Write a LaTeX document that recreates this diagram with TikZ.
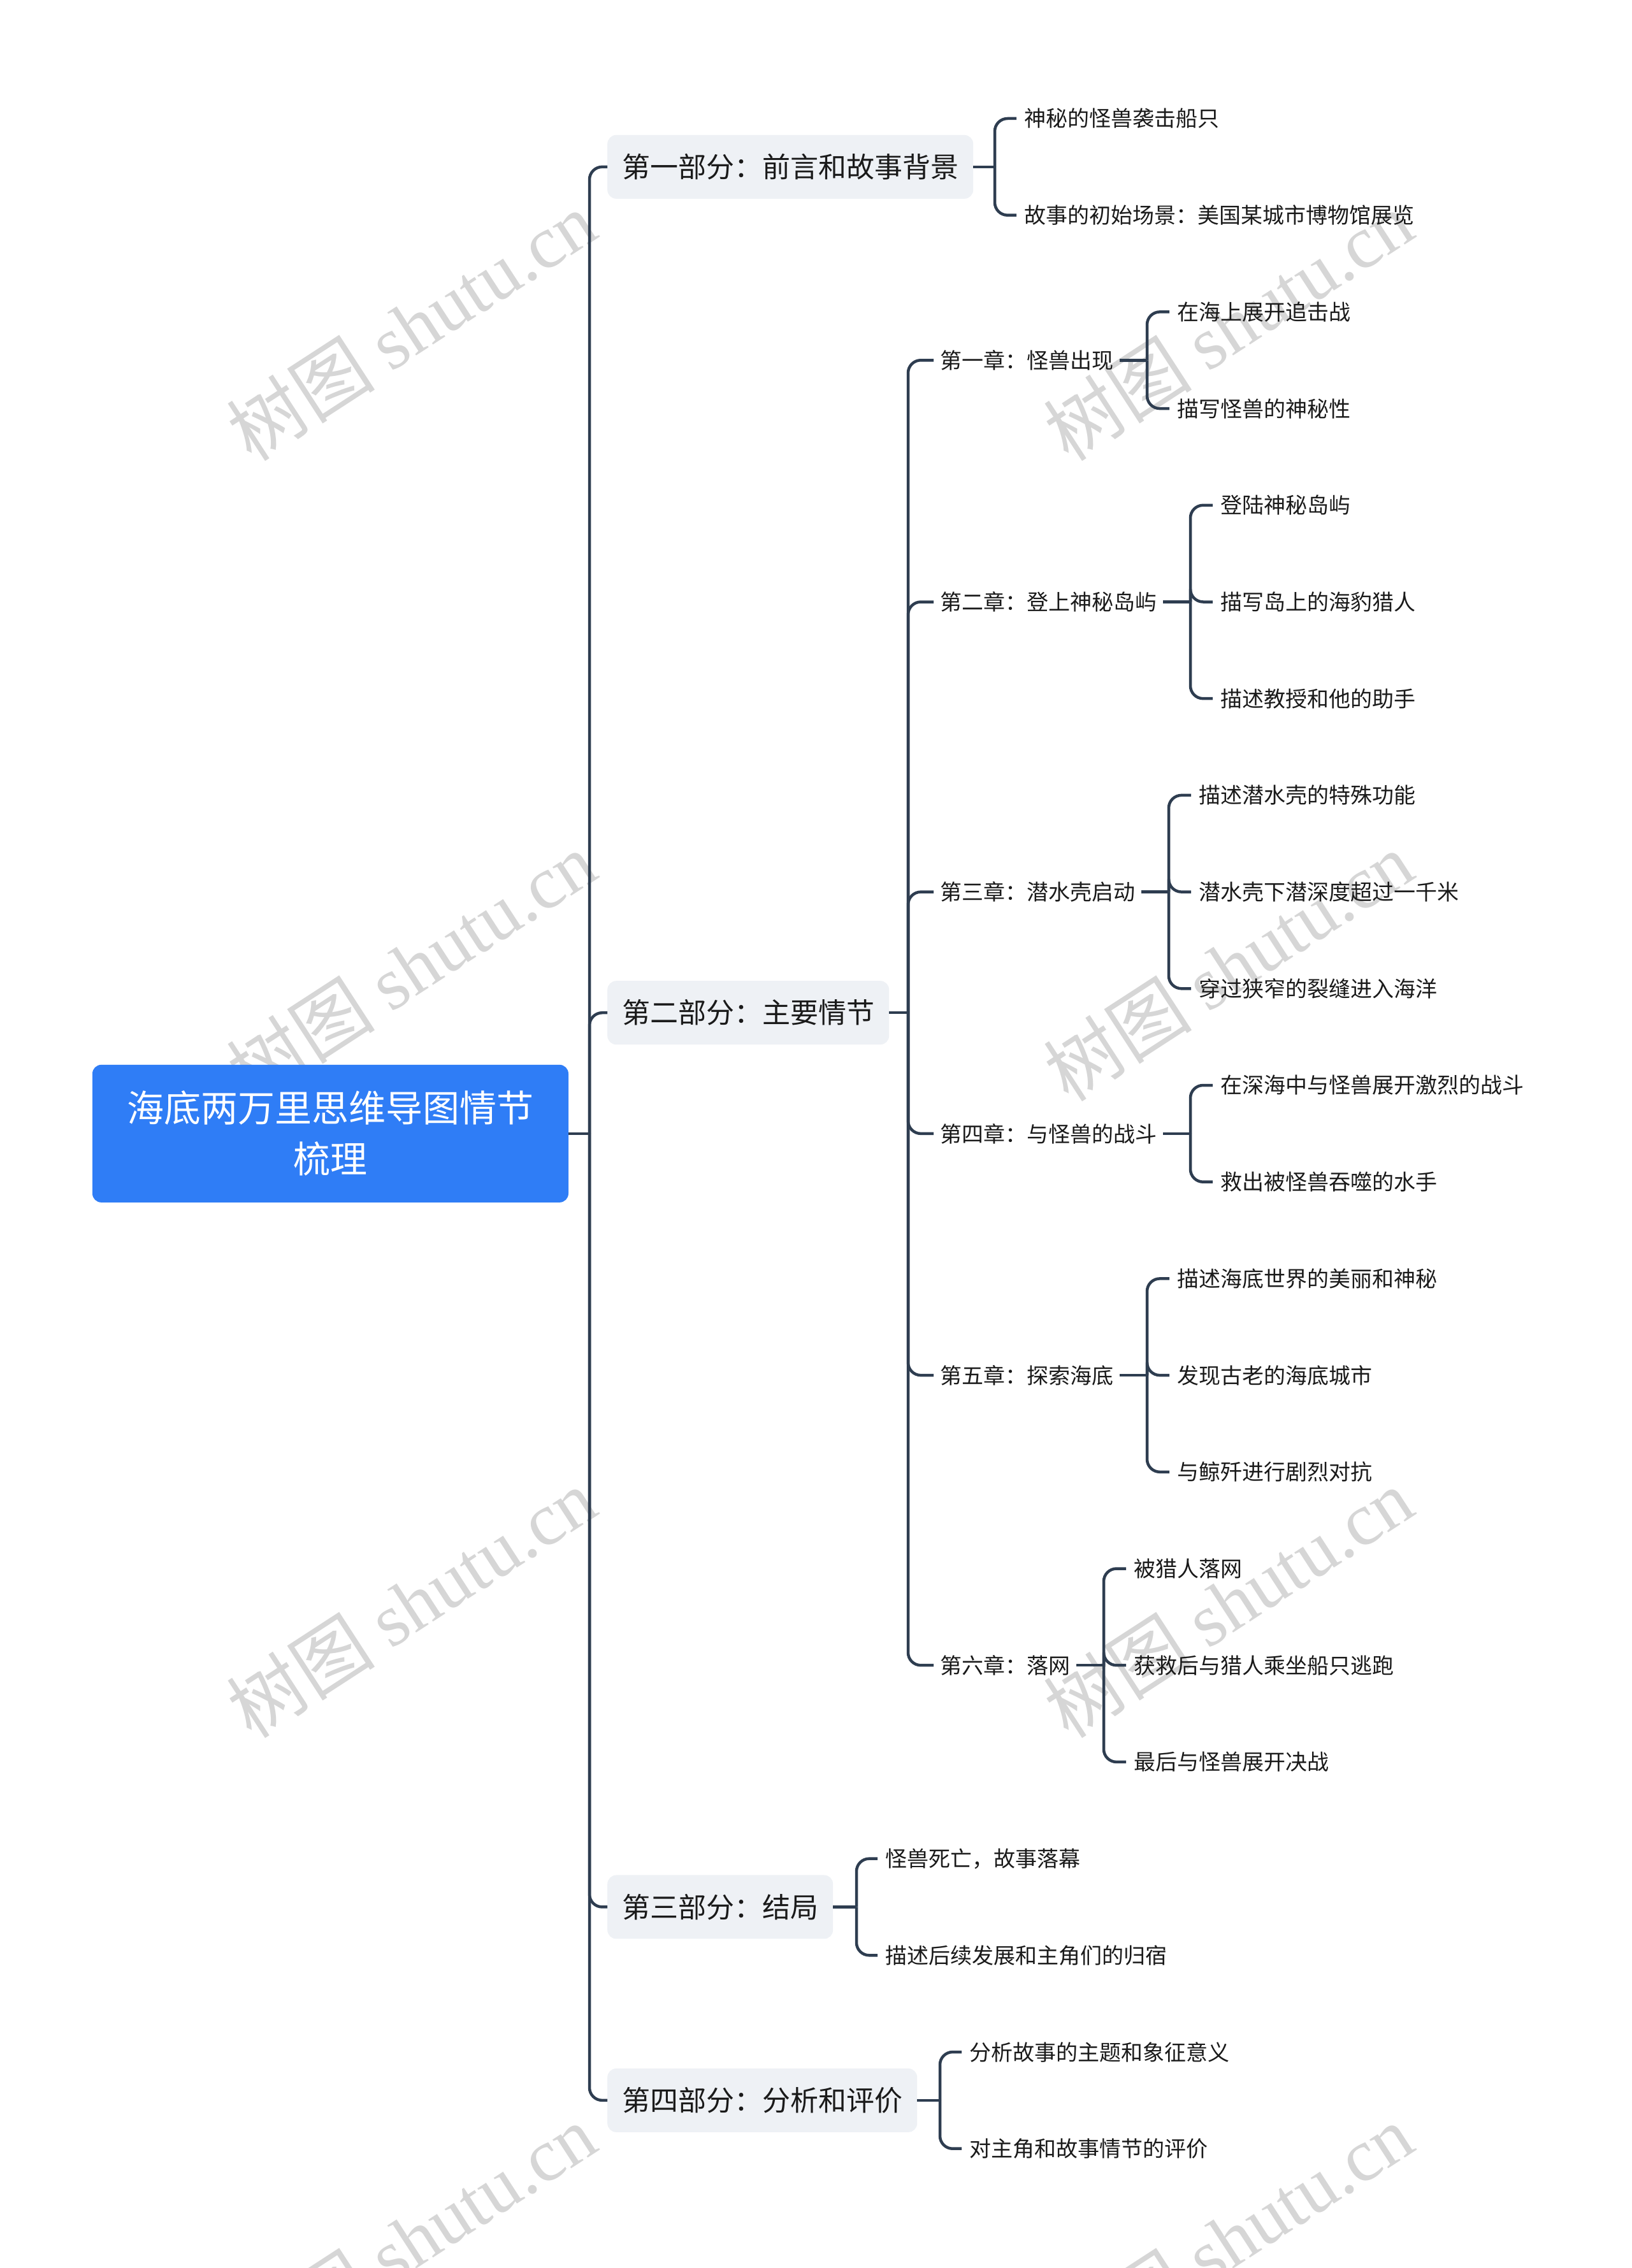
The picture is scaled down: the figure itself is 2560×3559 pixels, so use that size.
\documentclass[tikz,border=0pt]{standalone}
\usepackage{fontspec}
\setmainfont{Noto Sans CJK SC}
\newfontfamily\wmlatin{Liberation Serif}
\definecolor{linec}{HTML}{2E3D50}
\definecolor{rootc}{HTML}{2F7DF6}
\definecolor{boxc}{HTML}{EEF1F5}
\definecolor{wmc}{HTML}{D6D6D6}
\definecolor{txtc}{HTML}{1A1A1A}
\begin{document}
\begin{tikzpicture}[x=1pt,y=-1pt,
  conn/.style={draw=linec, line width=4.5pt, rounded corners=20pt},
  rootbox/.style={fill=rootc, rounded corners=14pt, text=white, font=\fontsize{58}{80}\selectfont, align=center, minimum width=747pt, minimum height=216pt, inner sep=0pt},
  partbox/.style={fill=boxc, rounded corners=14pt, text=txtc, font=\fontsize{44}{52}\selectfont, inner xsep=23pt, inner ysep=0pt, minimum height=100pt, anchor=west},
  chap/.style={text=txtc, font=\fontsize{34}{40}\selectfont, inner xsep=10pt, anchor=west},
  leaf/.style={text=txtc, font=\fontsize{34}{40}\selectfont, inner xsep=12pt, anchor=west},
  wm/.style={text=wmc, rotate=33, font=\fontsize{117}{125}\selectfont}]
\path[use as bounding box, fill=white] (0,0) rectangle (2560,3559);

% watermarks
\foreach \wx/\wy [count=\i] in {645/511,1927/511,645/1516,1927/1516,645/2515,1927/2515,645/3513,1927/3513}{
  \node[wm] (wm\i) at (\wx,\wy) {树图 {\wmlatin shutu.cn}};
}

% root
\node[rootbox] (root) at (518.5,1778.85) {海底两万里思维导图情节\\梳理};

% parts
\node[partbox] (p1) at (953,261.85) {第一部分：前言和故事背景};
\node[partbox] (p2) at (953,1589.2) {第二部分：主要情节};
\node[partbox] (p3) at (953,2992.45) {第三部分：结局};
\node[partbox] (p4) at (953,3295.85) {第四部分：分析和评价};

% chapters
\node[chap] (c1) at (1465,565.25) {第一章：怪兽出现};
\node[chap] (c2) at (1465,944.5) {第二章：登上神秘岛屿};
\node[chap] (c3) at (1465,1399.6) {第三章：潜水壳启动};
\node[chap] (c4) at (1465,1778.85) {第四章：与怪兽的战斗};
\node[chap] (c5) at (1465,2158.1) {第五章：探索海底};
\node[chap] (c6) at (1465,2613.2) {第六章：落网};

% leaves
\node[leaf] (l0) at (1595,186.0) {神秘的怪兽袭击船只};
\node[leaf] (l1) at (1595,337.7) {故事的初始场景：美国某城市博物馆展览};
\node[leaf] (l2) at (1835,489.4) {在海上展开追击战};
\node[leaf] (l3) at (1835,641.1) {描写怪兽的神秘性};
\node[leaf] (l4) at (1903,792.8) {登陆神秘岛屿};
\node[leaf] (l5) at (1903,944.5) {描写岛上的海豹猎人};
\node[leaf] (l6) at (1903,1096.2) {描述教授和他的助手};
\node[leaf] (l7) at (1869,1247.9) {描述潜水壳的特殊功能};
\node[leaf] (l8) at (1869,1399.6) {潜水壳下潜深度超过一千米};
\node[leaf] (l9) at (1869,1551.3) {穿过狭窄的裂缝进入海洋};
\node[leaf] (l10) at (1903,1703.0) {在深海中与怪兽展开激烈的战斗};
\node[leaf] (l11) at (1903,1854.7) {救出被怪兽吞噬的水手};
\node[leaf] (l12) at (1835,2006.4) {描述海底世界的美丽和神秘};
\node[leaf] (l13) at (1835,2158.1) {发现古老的海底城市};
\node[leaf] (l14) at (1835,2309.8) {与鲸歼进行剧烈对抗};
\node[leaf] (l15) at (1767,2461.5) {被猎人落网};
\node[leaf] (l16) at (1767,2613.2) {获救后与猎人乘坐船只逃跑};
\node[leaf] (l17) at (1767,2764.9) {最后与怪兽展开决战};
\node[leaf] (l18) at (1377,2916.6) {怪兽死亡，故事落幕};
\node[leaf] (l19) at (1377,3068.3) {描述后续发展和主角们的归宿};
\node[leaf] (l20) at (1509,3220.0) {分析故事的主题和象征意义};
\node[leaf] (l21) at (1509,3371.7) {对主角和故事情节的评价};

% junction coordinates
\coordinate (jr) at (925,1778.85);
\coordinate (jp1) at (1561,261.85);
\coordinate (jp2) at (1425,1589.2);
\coordinate (jp3) at (1344,2992.45);
\coordinate (jp4) at (1475,3295.85);
\coordinate (jc1) at (1800,565.25);
\coordinate (jc2) at (1868,944.5);
\coordinate (jc3) at (1834,1399.6);
\coordinate (jc4) at (1868,1778.85);
\coordinate (jc5) at (1800,2158.1);
\coordinate (jc6) at (1732,2613.2);

% root trunk
\draw[conn] (root.east) -- (jr);
\foreach \p in {p1,p2,p3,p4}{\draw[conn] (jr) |- (\p.west);}

% part brackets
\draw[conn] (p1.east) -- (jp1);
\foreach \l in {l0,l1}{\draw[conn] (jp1) |- (\l.west);}
\draw[conn] (p2.east) -- (jp2);
\foreach \c in {c1,c2,c3,c4,c5,c6}{\draw[conn] (jp2) |- (\c.west);}
\draw[conn] (p3.east) -- (jp3);
\foreach \l in {l18,l19}{\draw[conn] (jp3) |- (\l.west);}
\draw[conn] (p4.east) -- (jp4);
\foreach \l in {l20,l21}{\draw[conn] (jp4) |- (\l.west);}

% chapter brackets
\draw[conn] (c1.east) -- (jc1);
\foreach \l in {l2,l3}{\draw[conn] (jc1) |- (\l.west);}
\draw[conn] (c2.east) -- (jc2);
\foreach \l in {l4,l5,l6}{\draw[conn] (jc2) |- (\l.west);}
\draw[conn] (c3.east) -- (jc3);
\foreach \l in {l7,l8,l9}{\draw[conn] (jc3) |- (\l.west);}
\draw[conn] (c4.east) -- (jc4);
\foreach \l in {l10,l11}{\draw[conn] (jc4) |- (\l.west);}
\draw[conn] (c5.east) -- (jc5);
\foreach \l in {l12,l13,l14}{\draw[conn] (jc5) |- (\l.west);}
\draw[conn] (c6.east) -- (jc6);
\foreach \l in {l15,l16,l17}{\draw[conn] (jc6) |- (\l.west);}
\end{tikzpicture}
\end{document}
